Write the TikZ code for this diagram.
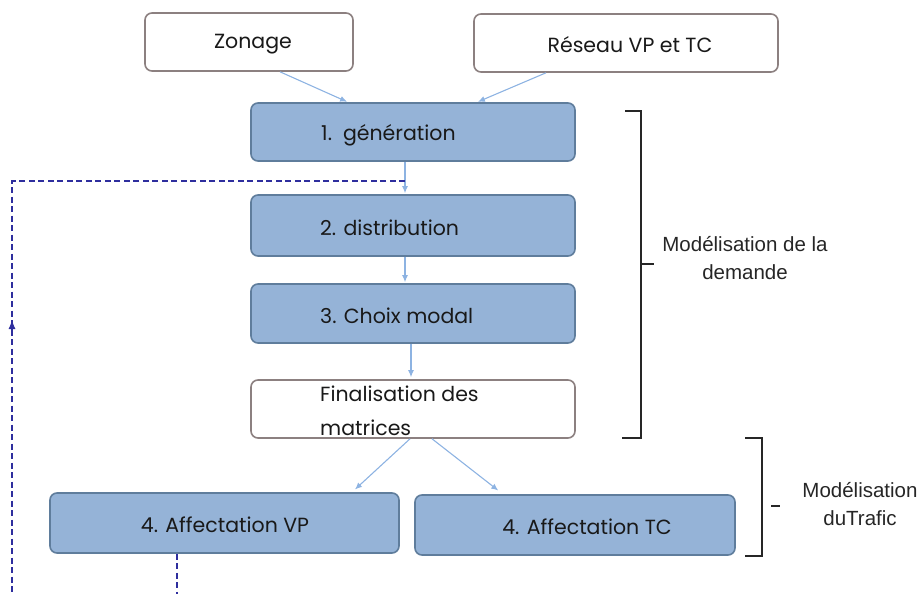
\documentclass[tikz,border=0pt]{standalone}
\usepackage{fontspec}
\setmainfont{Poppins}
\newfontfamily\arialf{Liberation Sans}
\usetikzlibrary{arrows.meta}
\definecolor{boxfill}{HTML}{95B3D7}
\definecolor{boxline}{HTML}{5F7D9C}
\definecolor{whiteline}{HTML}{8C8080}
\definecolor{flow}{HTML}{8DB3E2}
\definecolor{navy}{HTML}{2E2E9E}
\begin{document}
\begin{tikzpicture}[x=1pt,y=-1pt,
  bluebox/.style={draw=boxline, line width=1.6pt, fill=boxfill, rounded corners=7pt, minimum height=59pt, inner sep=0pt},
  whitebox/.style={draw=whiteline, line width=1.6pt, fill=white, rounded corners=7pt, minimum height=58pt, inner sep=0pt},
  boxtext/.style={font=\fontsize{20.5}{24}\selectfont, inner sep=0pt, text=black!90},
  sidetext/.style={font=\arialf\fontsize{20.5}{28}\selectfont, align=center, text=black!85},
  flowarrow/.style={draw=flow, line width=1.1pt, -{Latex[length=7pt,width=6pt]}, shorten >=1pt},
  feedback/.style={draw=navy, line width=1.1pt, dash pattern=on 6pt off 3.5pt},
  bracket/.style={draw=black!85, line width=1.2pt}
]
\useasboundingbox (0,0) rectangle (921,594);

% boxes
\node[whitebox, minimum width=208pt] (zon) at (249,42) {};
\node[boxtext] (zont) at (253,44) {Zonage};
\node[whitebox, minimum width=304pt] (res) at (626,43) {};
\node[boxtext] (rest) at (630,45) {Réseau VP et TC};

\node[bluebox, minimum width=324pt, minimum height=58pt] (b1) at (413,132) {};
\node[boxtext, anchor=west] (b1t) at (321,135) {1.\ \ génération};
\node[bluebox, minimum width=324pt, minimum height=61pt] (b2) at (413,225.5) {};
\node[boxtext, anchor=west] (b2t) at (320,228) {2. distribution};
\node[bluebox, minimum width=324pt] (b3) at (413,313.5) {};
\node[boxtext, anchor=west] (b3t) at (320,316) {3. Choix modal};
\node[whitebox, minimum width=324pt] (fin) at (413,409) {};
\node[boxtext, anchor=west] (fint1) at (320,394) {Finalisation des};
\node[boxtext, anchor=west] (fint2) at (320,428) {matrices};

\node[bluebox, minimum width=349pt, minimum height=60pt] (vp) at (224.5,523) {};
\node[boxtext] (vpt) at (225,525) {4. Affectation VP};
\node[bluebox, minimum width=320pt, minimum height=60pt] (tc) at (575,525) {};
\node[boxtext] (tct) at (587,527) {4. Affectation TC};

% flow arrows
\draw[flowarrow] ([xshift=31pt]zon.south) -- ([xshift=-65pt]b1.north);
\draw[flowarrow] ([xshift=-80pt]res.south) -- ([xshift=64pt]b1.north);
\draw[flowarrow] ([xshift=-8pt]b1.south) -- ([xshift=-8pt]b2.north);
\draw[flowarrow] ([xshift=-8pt]b2.south) -- ([xshift=-8pt]b3.north);
\draw[flowarrow, shorten >=2pt] ([xshift=-2pt]b3.south) -- ([xshift=-2pt]fin.north);
\draw[flowarrow, shorten >=4pt] ([xshift=-3pt]fin.south) -- ([xshift=127.5pt]vp.north);
\draw[flowarrow, shorten >=6pt] ([xshift=19pt]fin.south) -- ([xshift=-72pt]tc.north);

% feedback dashed lines
\coordinate (fbjoin) at (405,181);
\coordinate (fbcorner) at (12,181);
\coordinate (fbbottom) at (12,594);
\coordinate (vpend) at (177,594);
\draw[feedback] (fbjoin) -- (fbcorner) -- (fbbottom);
\coordinate (tipa) at (12,334);
\coordinate (tipb) at (12,320);
\draw[draw=navy, line width=1.1pt, -{Latex[length=9pt,width=7pt]}] (tipa) -- (tipb);
\draw[feedback] ([xshift=-47.5pt]vp.south) -- (vpend);

% brackets
\coordinate (br1t) at (641,111);
\coordinate (br1b) at (641,438);
\coordinate (br1tl) at (625,111);
\coordinate (br1bl) at (622,438);
\coordinate (br1m) at (641,264);
\coordinate (br1mr) at (654,264);
\draw[bracket] (br1tl) -- (br1t) -- (br1b) -- (br1bl);
\draw[bracket] (br1m) -- (br1mr);
\node[sidetext] (dem) at (745,258) {Modélisation de la\\demande};

\coordinate (br2t) at (762,438);
\coordinate (br2b) at (762,556);
\coordinate (br2tl) at (745,438);
\coordinate (br2bl) at (745,556);
\coordinate (br2m) at (771,506);
\coordinate (br2mr) at (780,506);
\draw[bracket] (br2tl) -- (br2t) -- (br2b) -- (br2bl);
\draw[bracket] (br2m) -- (br2mr);
\node[sidetext] (traf) at (860,504) {Modélisation\\duTrafic};
\end{tikzpicture}
\end{document}
